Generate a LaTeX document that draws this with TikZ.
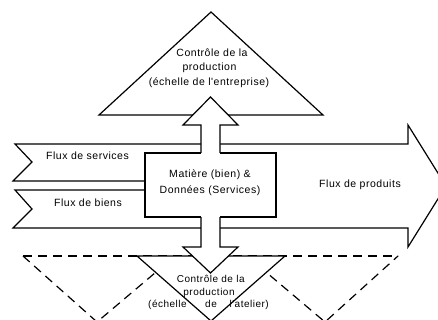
\documentclass[tikz,border=0pt]{standalone}
\usepackage{fontspec}
\setmainfont{Liberation Sans}[LetterSpace=5,Ligatures=TeXOff]
\begin{document}
\begin{tikzpicture}[x=1pt,y=-1pt]
\tikzset{
  outline/.style={draw=black, line width=1.2pt, line join=miter},
  dashline/.style={draw=black, line width=1.2pt, dash pattern=on 9pt off 6pt},
  lbl/.style={font=\fontsize{10.5}{12}\selectfont, anchor=base, inner sep=0pt},
  lblsmall/.style={lbl, font=\fontsize{10}{12}\selectfont},
}
\useasboundingbox (0,0) rectangle (438,320);
\clip (0,0) rectangle (438,320);
\fill[white] (0,0) rectangle (438,320);

% dashed triangles (workshop level)
\draw[dashline] (23,256) -- (398,256);
\draw[dashline] (23,256) -- (97,322) -- (175,256);
\draw[dashline] (247,256) -- (325,322) -- (398,256);

% bottom solid triangle
\filldraw[outline, fill=white] (137,256) -- (285,256) -- (211,321) -- cycle;
% top triangle
\filldraw[outline, fill=white] (99,115) -- (323,115) -- (211,12) -- cycle;

% input bands and big output arrow
\draw[outline] (145,181) -- (13,181) -- (32,162) -- (15,144) -- (201,144);
\draw[outline] (220,144) -- (408,144) -- (408,125) -- (446,186) -- (408,247) -- (408,228) -- (220,228);
\draw[outline] (201,228) -- (13,228) -- (32,209) -- (15,190) -- (145,190);

% central box
\draw[outline] (201,153) -- (145,153) -- (145,217) -- (201,217);
\draw[outline] (220,153) -- (276,153) -- (276,217) -- (220,217);

% up arrow
\fill[white] (201,153) -- (201,125) -- (183,125) -- (210.5,97) -- (238,125) -- (220,125) -- (220,153) -- cycle;
\draw[outline] (201,153) -- (201,125) -- (183,125) -- (210.5,97) -- (238,125) -- (220,125) -- (220,153);
% down arrow
\fill[white] (201,217) -- (201,247) -- (183,247) -- (210.5,273) -- (238,247) -- (220,247) -- (220,217) -- cycle;
\draw[outline] (201,217) -- (201,247) -- (183,247) -- (210.5,273) -- (238,247) -- (220,247) -- (220,217);

% labels
\node[lbl] (svc) at (87.5,160) {Flux de services};
\node[lbl] (bie) at (88,206.7) {Flux de biens};
\node[lbl] (box1) at (210,177.7) {Matière (bien) \&};
\node[lbl] (box2) at (210,193.3) {Données (Services)};
\node[lbl] (prod) at (360,188) {Flux de produits};
\node[lbl] (t1) at (212,56.7) {Contrôle de la};
\node[lbl] (t2) at (209.5,71) {production};
\node[lbl] (t3) at (209,85.5) {(échelle de l'entreprise)};
\node[lblsmall] (b1) at (210.7,282.7) {Contrôle de la};
\node[lblsmall] (b2) at (209,295.7) {production};
\node[lblsmall, anchor=base west] (b3a) at (148,307.7) {(échelle};
\node[lblsmall] (b3b) at (211,307.7) {de};
\node[lblsmall, anchor=base east] (b3c) at (269,307.7) {l'atelier)};
\end{tikzpicture}
\end{document}
